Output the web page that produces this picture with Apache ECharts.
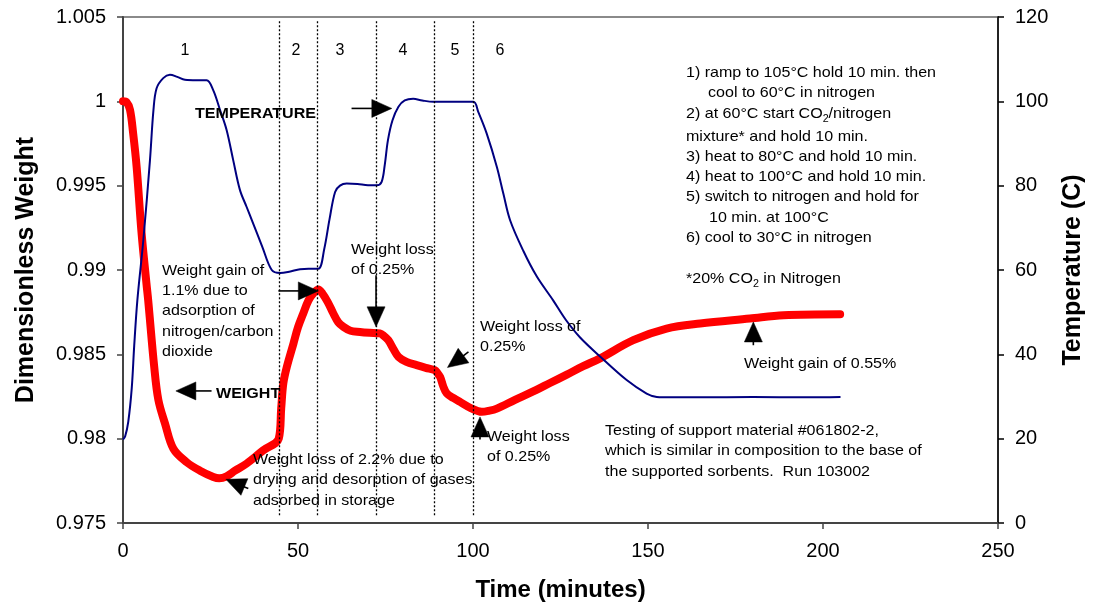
<!DOCTYPE html>
<html>
<head>
<meta charset="utf-8">
<script src="https://cdn.jsdelivr.net/npm/echarts/dist/echarts.min.js"></script>
<style>
  html, body { margin: 0; padding: 0; background: #fff; }
  #chart { width: 1095px; height: 607px; }
</style>
</head>
<body>
<div id="chart"></div>
<script>
const FONT = '"Liberation Sans", Arial, sans-serif';

// Sample weight (normalised) versus time in minutes
const weightTime = [0, 1, 2, 2.9, 3.9, 5.3, 6.7, 7.2, 8.9, 10.1, 12, 14.4, 18.2, 22, 25.8, 27.5, 29.6, 32, 35.3, 40,
  44.5, 45.2, 45.8, 46.8, 48.7, 50, 51.5, 53, 54.5, 55.8, 57, 58.5, 60.1, 61.5, 63, 65, 67.7, 70.5, 73.4, 74.5,
  75.8, 77.3, 78.7, 81, 83.9, 86.5, 89.1, 89.8, 90.6, 91.5, 92.5, 94.5, 96.3, 99.5, 102.5, 104.5, 106.8, 112, 117.2, 122,
  126.8, 131.5, 136.3, 145.8, 155.3, 164.9, 179.1, 188.7, 204.9];
const weightValue = [1.0, 0.99995, 0.9995, 0.9981, 0.9961, 0.9922, 0.9892, 0.9882, 0.9843, 0.9823, 0.9809, 0.9794, 0.9786, 0.9781, 0.97773, 0.97765, 0.97777, 0.9781, 0.97852, 0.9793,
  0.98, 0.9818, 0.98327, 0.98425, 0.98564, 0.9866, 0.98742, 0.9882, 0.98865, 0.98885, 0.9886, 0.9881, 0.98742, 0.9869, 0.98663, 0.9864, 0.98633, 0.98628, 0.98624, 0.9861,
  0.98584, 0.9853, 0.98485, 0.98455, 0.98436, 0.9842, 0.98406, 0.9839, 0.98366, 0.9831, 0.98268, 0.9824, 0.98218, 0.9818, 0.98159, 0.98165, 0.98178, 0.9823, 0.9828, 0.9833,
  0.9838, 0.9843, 0.98476, 0.98584, 0.98653, 0.98683, 0.98712, 0.98732, 0.98738];

// Furnace temperature (C) versus time in minutes
const tempTime = [0, 0.6, 1.5, 2.5, 3.2, 4.1, 5.8, 7.7, 8.7, 9.6, 11.5, 13.4, 15.5, 17.7, 21, 23.9, 25.8, 27.7, 29.6, 31.5,
  33.4, 35.3, 37.2, 39.8, 42.5, 44.9, 47.5, 50.6, 53, 55.8, 57.5, 59, 60.6, 62, 63.9, 67, 70, 72.5, 73.9, 74.8,
  75.7, 77, 78.7, 80.5, 82.9, 85.5, 88.7, 94, 100.1, 101.5, 103.9, 106.8, 108.7, 110.6, 114.4, 118.2, 122.9, 126.5, 130.6, 136.3,
  143.9, 149.6, 152.5, 154.4, 165, 180, 195, 205];
const tempValue = [19.8, 20.5, 24, 32, 42, 52.8, 67, 86, 97.9, 103.1, 105.5, 106.3, 105.8, 105.1, 105, 105, 102.6, 98, 93.2, 86,
  79, 75, 71, 65.5, 60, 59.3, 59.6, 60.2, 60.3, 60.3, 65, 72, 78.5, 80, 80.5, 80.4, 80.1, 80.1, 80.9, 85,
  90.8, 95.5, 98.7, 100.2, 100.6, 100.2, 99.9, 99.9, 99.9, 97.5, 92.4, 84.5, 78, 71.8, 64.5, 58.5, 52.8, 48.2, 44, 39.5,
  33.9, 30.7, 29.9, 29.8, 29.8, 29.9, 29.8, 29.9];

// Boundaries between the six stages of the run (minutes)
const stageBounds = [44.7, 55.6, 72.3, 89, 100.1];
const stageNames = ['1', '2', '3', '4', '5', '6'];

// Axis ranges
const timeAxis = { min: 0, max: 250, step: 50 };
const weightAxis = { min: 0.975, max: 1.005, step: 0.005 };
const tempAxis = { min: 0, max: 120, step: 20 };

// Callout arrows, tail -> tip, in (minutes, weight) units
const arrowTails = [[65.3, 0.99958], [44.4, 0.98876], [25.3, 0.98283], [35.8, 0.97704], [72.3, 0.98969], [98.7, 0.98514], [102.0, 0.97995], [180.1, 0.98554]];
const arrowTips  = [[76.8, 0.99958], [55.8, 0.98876], [15.1, 0.98283], [29.4, 0.97759], [72.3, 0.98663], [92.7, 0.98422], [102.0, 0.98129], [180.1, 0.98692]];

const chart = echarts.init(document.getElementById('chart'), null, { renderer: 'canvas' });

const pair = (xs, ys) => xs.map((x, i) => [x, ys[i]]);

const stageLines = stageBounds.map(t => [
  { coord: [t, 119.0] },
  { coord: [t, 1.4] }
]);

chart.setOption({
  animation: false,
  backgroundColor: '#fff',
  grid: {
    left: 123, right: 97, top: 17, bottom: 84,
    show: true, borderColor: '#8a8a8a', borderWidth: 2, backgroundColor: 'transparent',
    containLabel: false, outerBoundsMode: 'none'
  },
  xAxis: {
    type: 'value', min: timeAxis.min, max: timeAxis.max, interval: timeAxis.step,
    name: 'Time (minutes)', nameLocation: 'middle', nameGap: 55,
    nameTextStyle: { fontFamily: FONT, fontSize: 24, fontWeight: 'bold', color: '#000' },
    axisLine: { show: true, onZero: false, lineStyle: { color: '#444', width: 2 } },
    axisTick: { show: true, inside: false, length: 6, lineStyle: { color: '#444', width: 1.5 } },
    axisLabel: { fontFamily: FONT, fontSize: 20, color: '#000', margin: 18 },
    splitLine: { show: false }
  },
  yAxis: [
    {
      type: 'value', position: 'left', min: weightAxis.min, max: weightAxis.max, interval: weightAxis.step,
      name: 'Dimensionless Weight', nameLocation: 'middle', nameGap: 84, nameRotate: 90,
      nameTextStyle: { fontFamily: FONT, fontSize: 25, fontWeight: 'bold', color: '#000' },
      axisLine: { show: true, onZero: false, lineStyle: { color: '#444', width: 2 } },
      axisTick: { show: true, inside: false, length: 6, lineStyle: { color: '#444', width: 1.5 } },
      axisLabel: { fontFamily: FONT, fontSize: 20, color: '#000', margin: 17,
        formatter: v => String(+v.toFixed(3)) },
      splitLine: { show: false }
    },
    {
      type: 'value', position: 'right', min: tempAxis.min, max: tempAxis.max, interval: tempAxis.step,
      name: 'Temperature (C)', nameLocation: 'middle', nameGap: 63, nameRotate: 90,
      nameTextStyle: { fontFamily: FONT, fontSize: 25, fontWeight: 'bold', color: '#000' },
      axisLine: { show: true, onZero: false, lineStyle: { color: '#000', width: 1.5 } },
      axisTick: { show: true, inside: false, length: 6, lineStyle: { color: '#000', width: 1.5 } },
      axisLabel: { fontFamily: FONT, fontSize: 20, color: '#000', margin: 17 },
      splitLine: { show: false }
    }
  ],
  series: [
    {
      name: 'Weight', type: 'line', yAxisIndex: 0,
      data: pair(weightTime, weightValue),
      showSymbol: false, symbol: 'none',
      smooth: 0.35,
      lineStyle: { color: '#ff0000', width: 8, cap: 'round', join: 'round' },
      z: 2
    },
    {
      name: 'Temperature', type: 'line', yAxisIndex: 1,
      data: pair(tempTime, tempValue),
      showSymbol: false, symbol: 'none',
      smooth: 0.35,
      lineStyle: { color: '#000080', width: 2, join: 'round' },
      markLine: {
        silent: true, symbol: 'none', animation: false,
        label: { show: false },
        lineStyle: { type: [2, 2], color: '#000', width: 1.3 },
        data: stageLines
      },
      z: 3
    }
  ]
});

// ---- annotations ----
const TXT_SCALE = 1.07;
function txt(x, y, s, extra) {
  return {
    type: 'text', x: x, y: y, scaleX: TXT_SCALE, silent: true, z: 50,
    style: Object.assign({
      text: s, fontFamily: FONT, fontSize: 15, fill: '#000',
      align: 'left', verticalAlign: 'middle'
    }, extra || {})
  };
}
function block(x, y, lines, lh) {
  return lines.map((s, i) => txt(x, y + i * lh, s));
}
const subRich = {
  n: { fontFamily: FONT, fontSize: 15, fill: '#000', lineHeight: 20 },
  s: { fontFamily: FONT, fontSize: 10, fill: '#000', lineHeight: 10, verticalAlign: 'bottom' }
};

const graphics = [];

// stage numbers
const stageLabelX = [185, 296, 340, 403, 455, 500];
stageNames.forEach((n, i) => {
  graphics.push({ type: 'text', x: stageLabelX[i], y: 51, silent: true, z: 50,
    style: { text: n, fontFamily: FONT, fontSize: 16, fill: '#000', align: 'center', verticalAlign: 'middle' } });
});

graphics.push(txt(195, 114, 'TEMPERATURE', { fontWeight: 'bold' }));
graphics.push(txt(216, 394, 'WEIGHT', { fontWeight: 'bold' }));

graphics.push(...block(162, 270.5, ['Weight gain of', '1.1% due to', 'adsorption of', 'nitrogen/carbon', 'dioxide'], 20.3));
graphics.push(...block(253, 459.5, ['Weight loss of 2.2% due to', 'drying and desorption of gases', 'adsorbed in storage'], 20.5));
graphics.push(...block(351, 250, ['Weight loss', 'of 0.25%'], 20));
graphics.push(...block(480, 327.3, ['Weight loss of', '0.25%'], 20));
graphics.push(...block(487, 436.7, ['Weight loss', 'of 0.25%'], 20));
graphics.push(txt(744, 363.5, 'Weight gain of 0.55%'));
graphics.push(...block(605, 430.7, ['Testing of support material #061802-2,', 'which is similar in composition to the base of', 'the supported sorbents.  Run 103002'], 20.5));

// procedure list
graphics.push(txt(686, 73.3, '1) ramp to 105°C hold 10 min. then'));
graphics.push(txt(708, 93.3, 'cool to 60°C in nitrogen'));
graphics.push(txt(686, 114, '', { text: '{n|2) at 60°C start CO}{s|2}{n|/nitrogen}', rich: subRich }));
graphics.push(txt(686, 136.5, 'mixture* and hold 10 min.'));
graphics.push(txt(686, 156.7, '3) heat to 80°C and hold 10 min.'));
graphics.push(txt(686, 176.7, '4) heat to 100°C and hold 10 min.'));
graphics.push(txt(686, 196.7, '5) switch to nitrogen and hold for'));
graphics.push(txt(709, 218.3, '10 min. at 100°C'));
graphics.push(txt(686, 238.3, '6) cool to 30°C in nitrogen'));
graphics.push(txt(686, 279.3, '', { text: '{n|*20% CO}{s|2}{n| in Nitrogen}', rich: subRich }));

// arrows placed through the weight axis scale
const HEAD_LEN = 20, HEAD_W = 18;
arrowTails.forEach((tail, i) => {
  const a = chart.convertToPixel({ xAxisIndex: 0, yAxisIndex: 0 }, tail);
  const b = chart.convertToPixel({ xAxisIndex: 0, yAxisIndex: 0 }, arrowTips[i]);
  const dx = b[0] - a[0], dy = b[1] - a[1];
  const len = Math.hypot(dx, dy) || 1;
  const ux = dx / len, uy = dy / len;
  const bx = b[0] - ux * HEAD_LEN, by = b[1] - uy * HEAD_LEN;
  const px = -uy * HEAD_W / 2, py = ux * HEAD_W / 2;
  if (len > HEAD_LEN) {
    graphics.push({ type: 'line', silent: true, z: 60,
      shape: { x1: a[0], y1: a[1], x2: bx + ux * 2, y2: by + uy * 2 },
      style: { stroke: '#000', lineWidth: 1.6 } });
  }
  graphics.push({ type: 'polygon', silent: true, z: 61,
    shape: { points: [[b[0], b[1]], [bx + px, by + py], [bx - px, by - py]] },
    style: { fill: '#000', stroke: '#000', lineWidth: 0.5 } });
});

chart.setOption({ graphic: graphics });
</script>
</body>
</html>
